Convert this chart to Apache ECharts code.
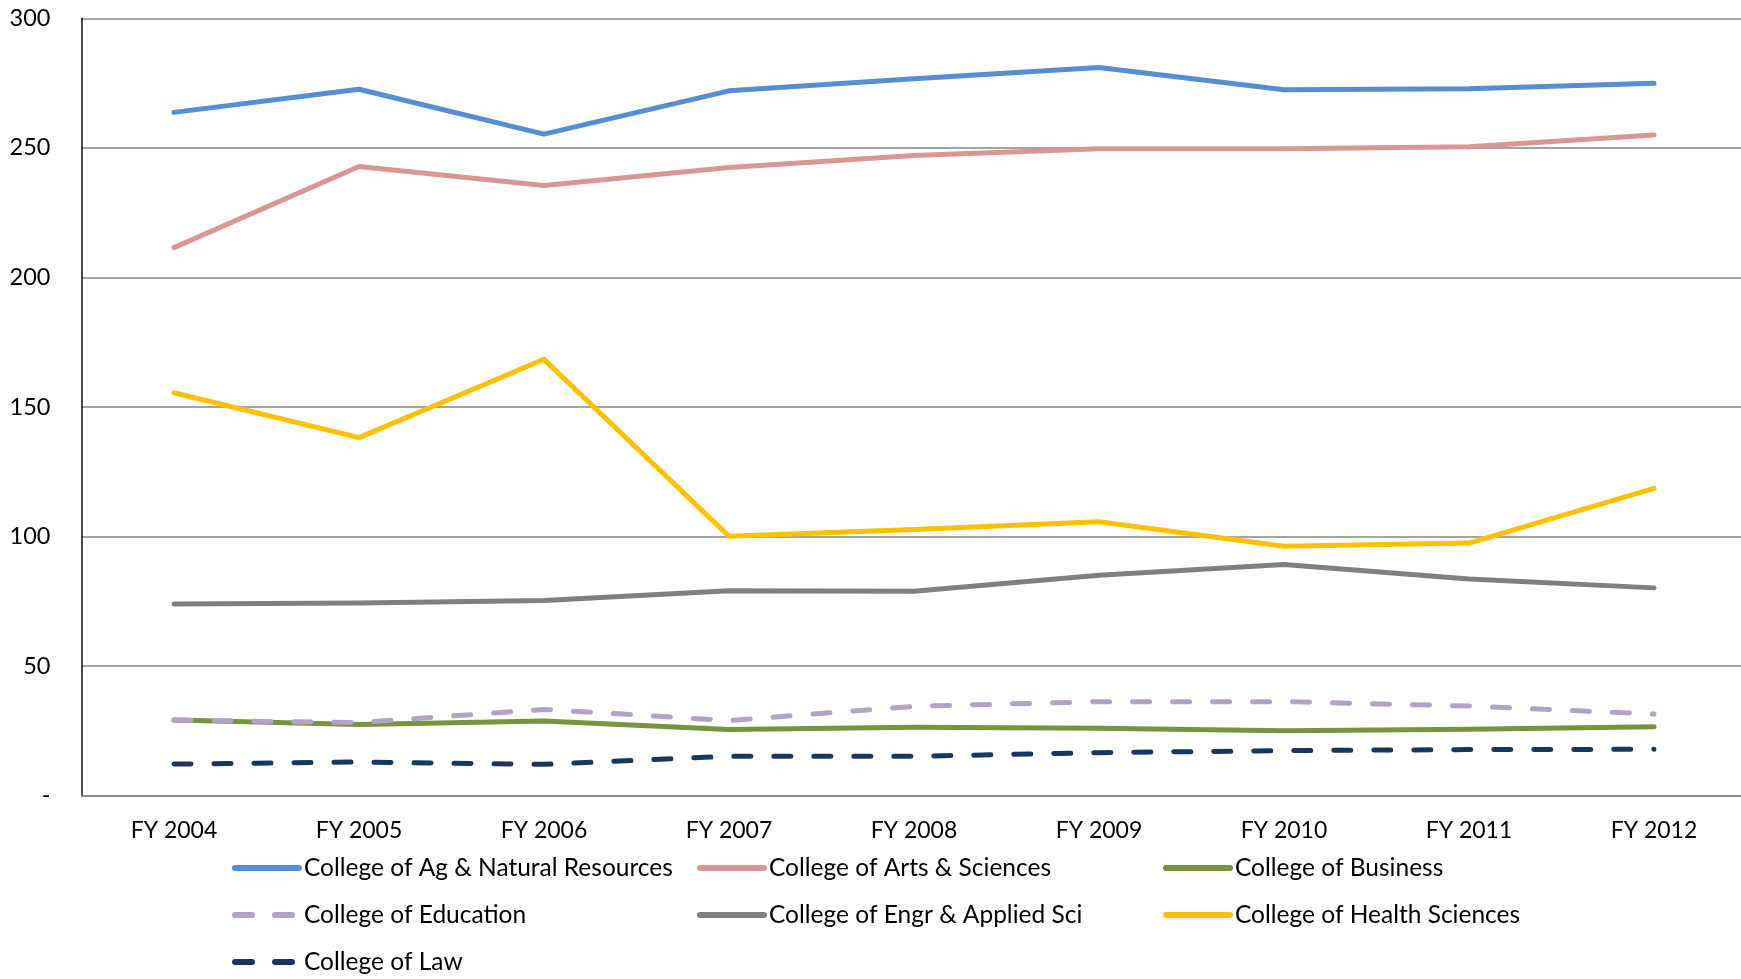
<!DOCTYPE html>
<html>
<head>
<meta charset="utf-8">
<script src="https://cdn.jsdelivr.net/npm/echarts@6/dist/echarts.min.js"></script>
<style>
html,body{margin:0;padding:0;background:#fff;}
#chart{width:1741px;height:979px;}
</style>
</head>
<body>
<div id="chart"></div>
<script>
var categories = ['FY 2004','FY 2005','FY 2006','FY 2007','FY 2008','FY 2009','FY 2010','FY 2011','FY 2012'];
var yTicks = [0, 50, 100, 150, 200, 250, 300];
var agNatural = [263.7, 272.6, 255.3, 272.0, 276.7, 281.0, 272.4, 272.8, 274.9];
var artsSciences = [211.5, 242.8, 235.5, 242.4, 247.1, 249.7, 249.7, 250.4, 255.0];
var business = [29.2, 27.5, 28.8, 25.5, 26.4, 26.0, 25.1, 25.6, 26.6];
var education = [29.2, 28.2, 33.3, 29.0, 34.5, 36.3, 36.3, 34.6, 31.5];
var engrApplied = [74.0, 74.4, 75.3, 79.1, 78.9, 85.1, 89.2, 83.6, 80.2];
var healthSciences = [155.5, 138.2, 168.4, 100.1, 102.7, 105.7, 96.3, 97.5, 118.6];
var law = [12.2, 13.0, 12.1, 15.2, 15.2, 16.6, 17.4, 17.8, 17.9];

var FONT = '"Lato", sans-serif';

function mk(name, data, color, dashed) {
  return {
    name: name,
    type: 'line',
    data: data,
    symbol: 'none',
    smooth: false,
    lineStyle: {
      color: color,
      width: 5,
      type: dashed ? [17, 23] : 'solid',
      cap: 'round',
      join: 'round'
    },
    itemStyle: { color: color }
  };
}

var legendCommon = {
  orient: 'vertical',
  top: 855,
  padding: 0,
  itemWidth: 64,
  itemHeight: 14,
  itemGap: 21,
  itemTextGap: 9,
  itemStyle: { opacity: 0 },
  lineStyle: { width: 6, cap: 'round' },
  textStyle: { fontFamily: FONT, fontSize: 24.5, color: '#000', lineHeight: 26 }
};

var chart = echarts.init(document.getElementById('chart'));
chart.setOption({
  animation: false,
  backgroundColor: '#fff',
  grid: { left: 81.5, top: 18.3, width: 1665, bottom: 183.3, containLabel: false, outerBoundsMode: 'none' },
  legend: [
    Object.assign({}, legendCommon, { left: 232, data: ['College of Ag & Natural Resources', 'College of Education', 'College of Law'] }),
    Object.assign({}, legendCommon, { left: 697, data: ['College of Arts & Sciences', 'College of Engr & Applied Sci'] }),
    Object.assign({}, legendCommon, { left: 1163, data: ['College of Business', 'College of Health Sciences'] })
  ],
  xAxis: {
    type: 'category',
    data: categories,
    boundaryGap: true,
    axisLine: { show: true, lineStyle: { color: '#868686', width: 1.5 } },
    axisTick: { show: false },
    axisLabel: { fontFamily: FONT, fontSize: 23, color: '#000', margin: 23 }
  },
  yAxis: {
    type: 'value',
    min: yTicks[0],
    max: yTicks[yTicks.length - 1],
    interval: 50,
    axisLine: { show: true, lineStyle: { color: '#111', width: 1.5 } },
    axisTick: { show: false },
    splitLine: { show: true, lineStyle: { color: '#868686', width: 1.5 } },
    axisLabel: {
      fontFamily: FONT, fontSize: 23.5, color: '#000', margin: 31,
      formatter: function (v) { return v === 0 ? '-' : String(v); }
    }
  },
  series: [
    mk('College of Ag & Natural Resources', agNatural, '#558ED5', false),
    mk('College of Arts & Sciences', artsSciences, '#D99694', false),
    mk('College of Business', business, '#77933C', false),
    mk('College of Education', education, '#B3A2C7', true),
    mk('College of Engr & Applied Sci', engrApplied, '#7F7F7F', false),
    mk('College of Health Sciences', healthSciences, '#FFC000', false),
    mk('College of Law', law, '#17375E', true)
  ]
});
</script>
</body>
</html>
